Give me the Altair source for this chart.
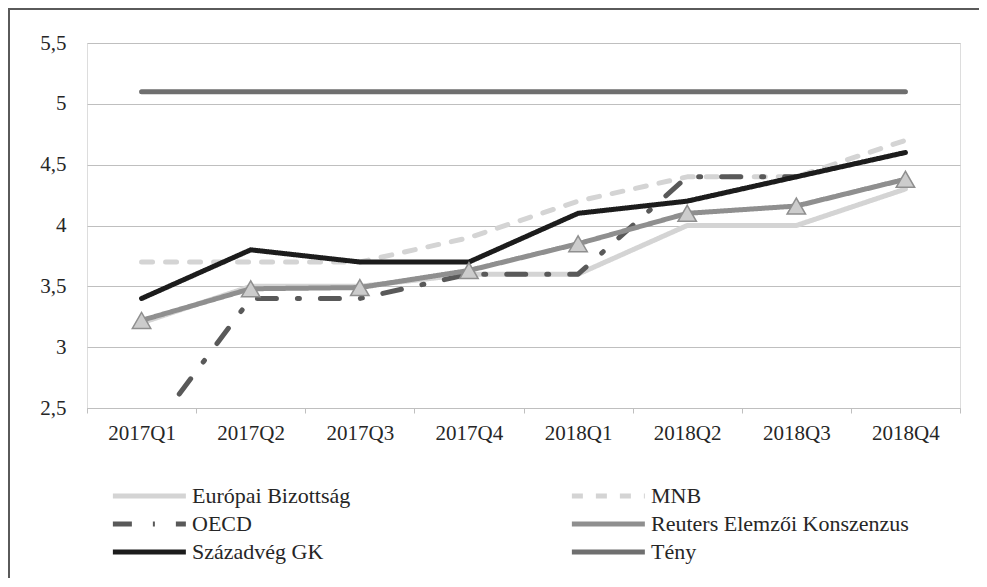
import altair as alt
import pandas as pd

quarters = ["2017Q1", "2017Q2", "2017Q3", "2017Q4", "2018Q1", "2018Q2", "2018Q3", "2018Q4"]
series = ["Európai Bizottság", "MNB", "OECD", "Reuters Elemzői Konszenzus", "Századvég GK", "Tény"]
# legend fills column by column: left column first, then right column
legend_order = ["Európai Bizottság", "OECD", "Századvég GK", "MNB", "Reuters Elemzői Konszenzus", "Tény"]

eb = [3.2, 3.5, 3.5, 3.6, 3.6, 4.0, 4.0, 4.3]
mnb = [3.7, 3.7, 3.7, 3.9, 4.2, 4.4, 4.4, 4.7]
oecd = [2.2, 3.4, 3.4, 3.6, 3.6, 4.4, 4.4, None]
reuters = [3.22, 3.48, 3.49, 3.63, 3.85, 4.10, 4.16, 4.38]
szazadveg = [3.4, 3.8, 3.7, 3.7, 4.1, 4.2, 4.4, 4.6]
teny = [5.1, 5.1, 5.1, 5.1, 5.1, 5.1, 5.1, 5.1]

style_color = {"Európai Bizottság": "#d4d4d4", "MNB": "#d4d4d4", "OECD": "#595959",
               "Reuters Elemzői Konszenzus": "#8f8f8f", "Századvég GK": "#1c1c1c", "Tény": "#6f6f6f"}
style_dash = {"Európai Bizottság": [1, 0], "MNB": [11, 13], "OECD": [19, 21, 2, 21],
              "Reuters Elemzői Konszenzus": [1, 0], "Századvég GK": [1, 0], "Tény": [1, 0]}
style_width = {"Európai Bizottság": 5, "MNB": 6, "OECD": 5,
               "Reuters Elemzői Konszenzus": 5, "Századvég GK": 5, "Tény": 6}

rows = []
for name, vals in zip(series, [eb, mnb, oecd, reuters, szazadveg, teny]):
    for q, v in zip(quarters, vals):
        if v is not None:
            rows.append({"quarter": q, "series": name, "value": v})
df = pd.DataFrame(rows)

W, H = 873, 365
FONT = "Liberation Serif"
TXT = "#262626"

xenc = alt.X("quarter:N", sort=quarters, title=None,
             scale=alt.Scale(domain=quarters, paddingInner=0, paddingOuter=0),
             axis=alt.Axis(labelAngle=0, tickBand="extent", tickSize=5, tickColor="#bfbfbf",
                           domainColor="#bfbfbf", grid=False, labelPadding=9,
                           labelFont=FONT, labelFontSize=21, labelColor=TXT))
yenc = alt.Y("value:Q", title=None,
             scale=alt.Scale(domain=[2.5, 5.5], nice=False, zero=False),
             axis=alt.Axis(values=[2.5, 3, 3.5, 4, 4.5, 5, 5.5], domain=False, ticks=False,
                           gridColor="#bfbfbf", gridWidth=1, labelPadding=21,
                           labelExpr="replace(toString(datum.value), '.', ',')",
                           labelFont=FONT, labelFontSize=21, labelColor=TXT))

lines = alt.Chart(df).mark_line(strokeCap="round", strokeJoin="round", clip=True).encode(
    x=xenc,
    y=yenc,
    color=alt.Color("series:N",
                    scale=alt.Scale(domain=legend_order, range=[style_color[s] for s in legend_order]),
                    legend=alt.Legend(title=None, orient="none", legendX=23, legendY=441,
                                      columns=2, symbolType="M-1,0H7", symbolSize=333,
                                      labelFont=FONT, labelFontSize=22, labelColor=TXT,
                                      labelOffset=58, columnPadding=210, rowPadding=5,
                                      labelLimit=400)),
    strokeDash=alt.StrokeDash("series:N",
                              scale=alt.Scale(domain=legend_order, range=[style_dash[s] for s in legend_order])),
    strokeWidth=alt.StrokeWidth("series:N",
                                scale=alt.Scale(domain=legend_order, range=[style_width[s] for s in legend_order])),
    detail="series:N",
)

tri = alt.Chart(df[df["series"] == "Reuters Elemzői Konszenzus"]).mark_point(
    shape="triangle-up", size=340, filled=True, fill="#cccccc", stroke="#8f8f8f",
    strokeWidth=1.5, opacity=1
).encode(x=alt.X("quarter:N", sort=quarters), y="value:Q")

frame_left = alt.Chart(alt.Data(values=[{}])).mark_rule(
    stroke="#5a5a5a", strokeWidth=2
).encode(x=alt.value(-78), y=alt.value(-34), y2=alt.value(H + 300))
frame_top = alt.Chart(alt.Data(values=[{}])).mark_rule(
    stroke="#5a5a5a", strokeWidth=2
).encode(x=alt.value(-79), x2=alt.value(W + 100), y=alt.value(-34))

chart = alt.layer(frame_left, frame_top, lines, tri).properties(
    width=W, height=H,
    autosize=alt.AutoSizeParams(type="none"),
    padding={"left": 79, "top": 35, "right": 19, "bottom": 170},
).configure_view(stroke=None).configure(background="white")

chart.save("out.html", embed_options={"renderer": "svg", "actions": False})
